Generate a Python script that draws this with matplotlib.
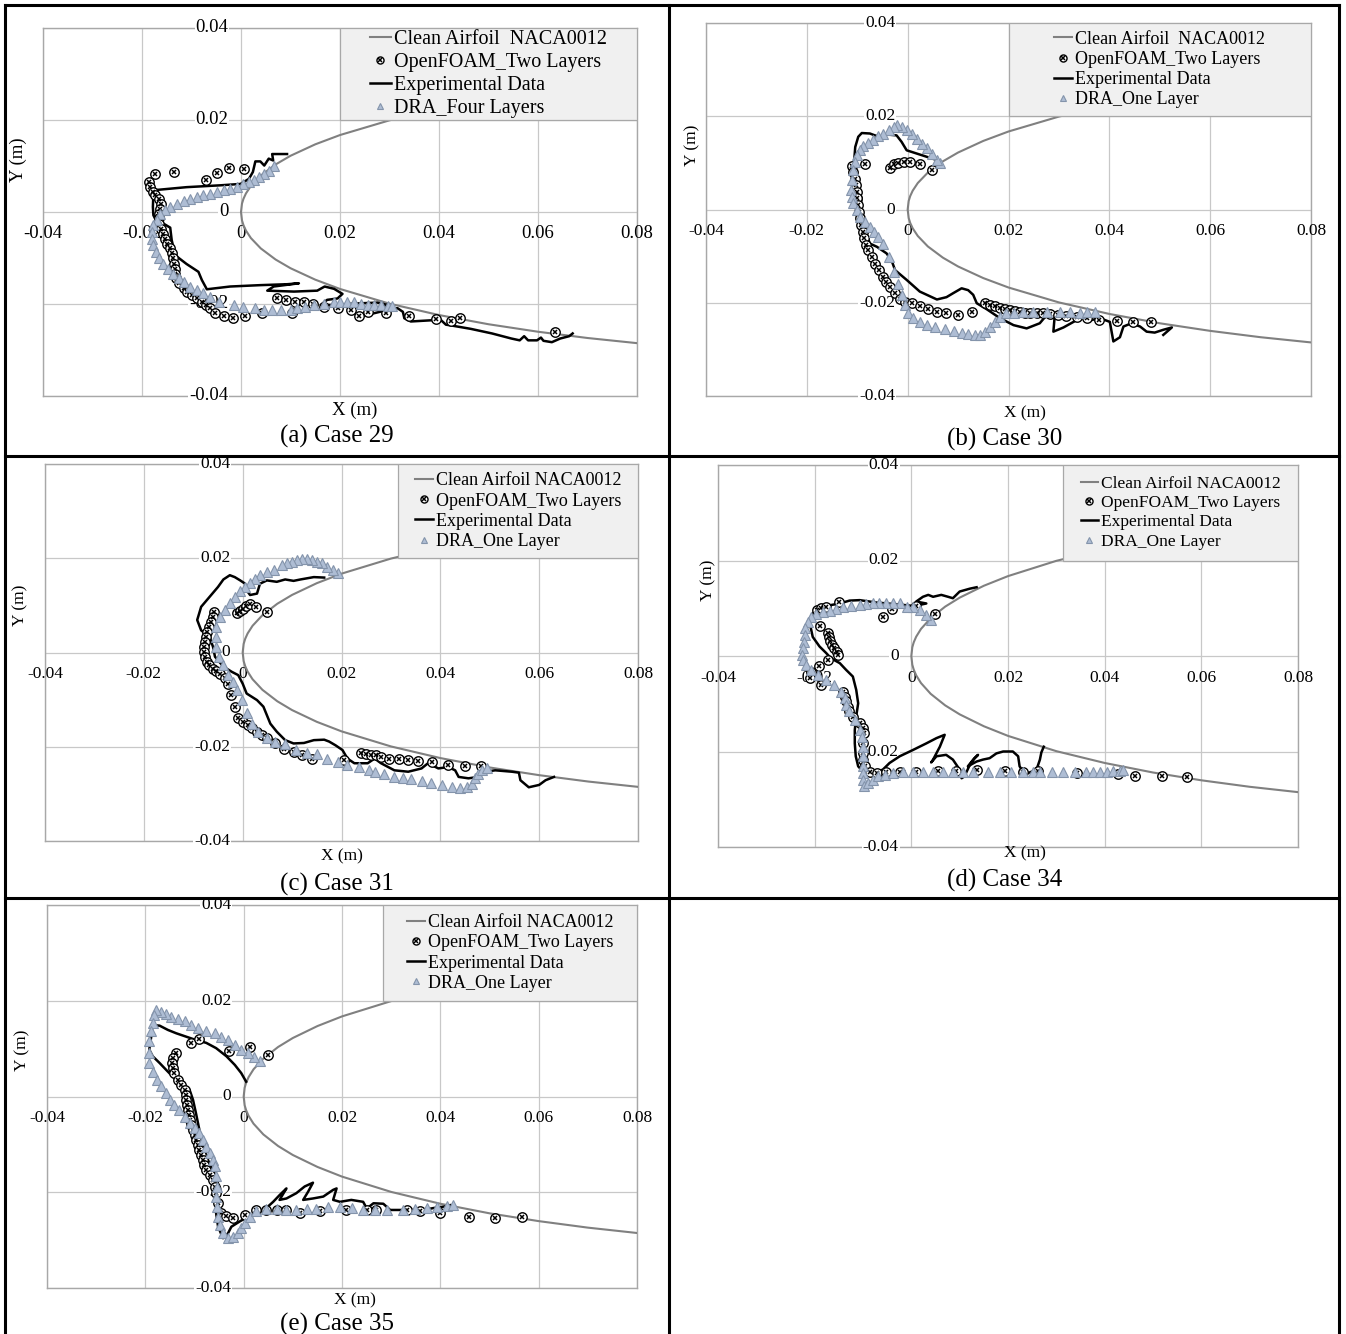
import numpy as np
import matplotlib
matplotlib.use("Agg")
import matplotlib.pyplot as plt
from matplotlib.lines import Line2D
from matplotlib.patches import Rectangle
from matplotlib.legend_handler import HandlerTuple

plt.rcParams["font.family"] = ["Liberation Serif", "DejaVu Serif"]

W, H = 1346, 1334

# ------------------------------------------------------------------
# Datos (en mm, se convierten a m al graficar)
# ------------------------------------------------------------------

# perfil limpio NACA0012 (mitad superior, simétrico)
AIRFOIL_X = [0.0, 0.2, 0.5, 1.0, 2.0, 4.0, 7.0, 10.0, 15.0, 20.0, 30.0,
             40.0, 50.0, 60.0, 70.0, 80.0, 85.0]
AIRFOIL_Y = [0.0, 1.83, 2.87, 4.04, 5.67, 7.92, 10.34, 12.22, 14.71, 16.73,
             19.93, 22.40, 24.40, 26.03, 27.39, 28.51, 28.98]

X_TICKS = [-0.04, -0.02, 0.0, 0.02, 0.04, 0.06, 0.08]
Y_TICKS = [-0.04, -0.02, 0.0, 0.02, 0.04]
X_TICK_LABELS = ["-0.04", "-0.02", "0", "0.02", "0.04", "0.06", "0.08"]
Y_TICK_LABELS = ["-0.04", "-0.02", "0", "0.02", "0.04"]

# Caso 29
EXP29_X = [9.3, 6.3, 6.5, 5.6, 4.7, 3.9, 2.9, 2.4, 1.6, -0.1, -4.2, -11.0, -17.0, -17.7,
           -17.8, -17.7, -17.0, -15.7, -14.3, -14.0, -13.3, -11.0, -8.6, -7.9, -6.9, -2.2,
           3.9, 9.3, 11.7, 6.6, 5.3, 10.7, 15.4, 16.9, 18.8, 20.5, 19.5, 17.4, 16.1, 18.8,
           22.8, 27.6, 29.6, 26.9, 25.2, 24.2, 26.9, 29.6, 31.6, 32.7, 33.0, 34.3, 39.1,
           40.4, 41.4, 42.1, 46.4, 50.7, 54.6, 56.3, 57.2, 58.0, 59.8, 60.6, 61.1, 62.8,
           64.5, 66.3, 67.0]
EXP29_Y = [12.6, 12.6, 11.2, 11.6, 10.1, 11.0, 11.0, 8.7, 7.2, 6.1, 5.8, 5.4, 4.8, 4.0,
           1.1, -0.7, -2.2, -2.5, -3.4, -6.1, -9.4, -11.3, -13.0, -14.8, -16.8, -16.2,
           -15.9, -15.7, -15.5, -16.2, -17.1, -17.3, -17.1, -16.2, -16.7, -17.8, -18.8,
           -19.1, -20.2, -20.2, -19.9, -19.7, -20.2, -20.9, -21.7, -22.7, -22.0, -21.3,
           -20.9, -21.7, -23.1, -23.8, -23.5, -23.5, -24.5, -24.6, -25.4, -26.4, -27.5,
           -27.9, -27.0, -27.9, -27.9, -27.3, -28.0, -28.3, -27.5, -27.0, -26.4]
OF29_X = [-17.4, -13.5, -7.0, -4.9, -2.5, 0.7, -18.5, -18.3, -17.8, -17.4, -16.5, -16.2,
          -16.4, -16.5, -16.6, -16.5, -16.2, -15.8, -15.3, -14.9, -14.3, -14.0, -13.7,
          -13.5, -13.3, -13.3, -13.1, -12.6, -11.6, -11.0, -9.9, -8.9, -7.9, -7.0, -6.2,
          -5.2, -3.5, -1.6, 0.9, 4.3, 10.3, 7.3, 9.0, 11.0, 12.7, 14.6, 16.8, 19.5, 22.2,
          23.9, 25.6, 29.3, 34.0, 39.4, 42.5, 44.3, 63.5]
OF29_Y = [8.3, 8.7, 7.0, 8.5, 9.6, 9.4, 6.5, 5.4, 4.3, 3.6, 2.9, 1.8, 0.7, -0.4, -1.4,
          -2.5, -3.6, -4.7, -5.8, -6.9, -7.9, -9.0, -10.1, -11.2, -12.3, -13.4, -14.4,
          -15.5, -16.6, -17.3, -18.1, -18.8, -19.5, -20.2, -20.9, -21.9, -22.6, -23.1,
          -22.6, -22.0, -21.9, -18.8, -19.1, -19.6, -19.6, -19.9, -20.6, -20.9, -21.3,
          -22.7, -21.7, -22.0, -22.7, -23.2, -23.8, -23.0, -26.0]
DRA29_X = [6.6, 5.6, 4.6, 3.6, 2.6, 1.6, 0.5, -0.8, -2.2, -3.5, -4.9, -6.2, -7.6, -8.9,
           -10.3, -11.6, -13.0, -14.3, -15.3, -16.4, -17.0, -17.7, -18.0, -18.0, -17.7,
           -17.2, -16.5, -15.7, -14.7, -13.7, -12.6, -11.6, -10.3, -8.9, -7.6, -6.2, -4.5,
           -1.5, 0.5, 2.9, 4.6, 6.3, 8.0, 10.0, 11.4, 13.0, 14.7, 16.8, 18.8, 20.1, 21.5,
           22.8, 24.2, 25.6, 26.9, 28.3, 29.6, 30.6]
DRA29_Y = [9.9, 9.0, 8.3, 7.6, 6.9, 6.5, 6.1, 5.4, 5.1, 4.7, 4.3, 4.0, 3.6, 3.2, 2.9, 2.4,
           1.8, 1.1, 0.4, -0.5, -1.7, -2.9, -4.3, -5.8, -7.2, -8.7, -10.1, -11.2, -12.3,
           -13.4, -14.4, -15.2, -16.2, -17.0, -17.7, -18.4, -19.5, -20.2, -20.6, -20.9,
           -21.3, -21.4, -21.3, -21.4, -20.9, -20.6, -20.2, -19.9, -19.5, -19.6, -19.6,
           -19.5, -19.9, -20.2, -20.2, -20.2, -20.4, -20.4]

# Caso 30
EXP30_X = [5.8, 3.8, 1.8, -0.2, -1.2, -2.2, -4.2, -5.5, -6.5, -7.5, -9.1, -9.8, -10.4,
           -10.6, -10.4, -9.8, -9.1, -9.5, -9.1, -8.5, -7.5, -6.1, -4.2, -3.2, -2.5, -0.2,
           2.4, 5.8, 7.7, 9.1, 10.7, 12.0, 13.0, 13.7, 15.7, 18.3, 21.0, 23.6, 26.2, 27.6,
           29.2, 28.9, 30.9, 32.9, 34.8, 36.5, 38.1, 40.1, 40.8, 42.1, 42.8, 44.4, 46.1,
           47.4, 49.0, 50.7, 52.4, 50.7]
EXP30_Y = [10.6, 11.3, 12.0, 12.7, 14.5, 15.9, 16.1, 15.6, 15.9, 16.3, 16.4, 15.6, 13.4,
           10.6, 7.0, 4.1, 2.4, -0.1, -2.3, -4.4, -7.3, -8.0, -9.4, -10.9, -13.0, -15.1,
           -17.6, -19.3, -18.8, -17.9, -16.9, -17.3, -18.3, -20.1, -21.4, -23.3, -24.8,
           -25.5, -24.4, -22.6, -22.4, -26.2, -25.3, -24.1, -23.0, -23.7, -23.3, -24.1,
           -28.3, -27.4, -25.1, -24.4, -25.1, -26.2, -26.4, -25.8, -25.3, -26.9]
OF30_X = [-11.1, -8.5, -3.6, -2.8, -1.9, -0.7, 0.5, 2.4, 4.8, -10.8, -10.4, -10.2, -10.1,
          -10.0, -9.8, -9.6, -9.5, -9.3, -8.9, -8.7, -8.3, -7.8, -7.1, -6.5, -5.6, -4.8,
          -4.2, -3.5, -2.5, -1.5, -0.5, 0.8, 2.4, 4.1, 5.8, 7.7, 10.0, 12.7, 15.3, 16.3,
          17.3, 18.3, 19.3, 20.3, 21.3, 22.3, 23.3, 24.3, 25.6, 26.9, 28.2, 29.9, 31.5,
          33.5, 35.5, 38.0, 41.6, 44.7, 48.2]
OF30_Y = [9.3, 9.7, 9.0, 9.7, 10.0, 10.2, 10.2, 9.7, 8.4, 8.1, 6.6, 5.2, 3.8, 2.4, 0.9,
          -0.5, -1.9, -3.4, -4.8, -6.2, -7.6, -8.7, -10.1, -11.6, -13.0, -14.4, -15.5,
          -16.6, -18.0, -19.1, -19.8, -20.1, -20.8, -21.4, -21.9, -22.3, -22.6, -21.9,
          -20.1, -20.5, -20.8, -21.1, -21.3, -21.6, -21.7, -21.9, -22.1, -22.1, -22.3,
          -22.3, -22.5, -22.6, -22.8, -23.1, -23.3, -23.7, -23.9, -24.1, -24.1]
DRA30_X = [6.5, 5.8, 4.8, 3.8, 2.8, 1.8, 0.8, -0.2, -1.2, -2.2, -2.8, -3.8, -4.8, -5.8,
           -6.8, -7.8, -8.8, -9.5, -10.0, -10.4, -10.8, -11.1, -11.3, -11.1, -10.8, -10.1,
           -9.5, -8.5, -7.5, -6.7, -5.8, -4.8, -3.8, -2.8, -1.9, -1.2, -0.5, 0.1, 1.1, 2.4,
           3.8, 5.4, 7.4, 9.1, 10.7, 12.0, 13.4, 14.3, 15.3, 16.3, 17.3, 18.3, 19.6, 21.0,
           22.9, 24.9, 27.6, 30.2, 32.2, 34.2, 35.5, 37.1]
DRA30_Y = [10.0, 10.7, 12.0, 13.1, 14.1, 15.2, 16.1, 17.0, 17.7, 18.1, 17.7, 17.0, 16.3,
           15.7, 15.0, 14.3, 13.6, 12.7, 11.6, 10.2, 8.4, 6.3, 4.1, 2.7, 1.3, -0.1, -1.6,
           -2.6, -3.7, -4.8, -5.9, -7.3, -10.1, -13.4, -15.9, -18.3, -20.5, -22.3, -23.3,
           -24.1, -24.8, -25.1, -25.6, -26.0, -26.4, -26.7, -26.9, -26.9, -26.2, -25.1,
           -24.1, -23.0, -22.3, -22.1, -21.9, -21.9, -21.9, -21.9, -21.9, -22.1, -21.9,
           -21.9]

# Caso 31
EXP31_X = [16.5, 14.4, 11.7, 10.3, 8.6, 6.9, 4.9, 3.5, 2.9, 1.5, 0.8, 0.5, -0.5, -1.6,
           -2.6, -3.9, -5.0, -6.7, -8.4, -9.2, -8.4, -6.7, -6.0, -5.6, -3.9, -2.2, -0.9,
           0.0, 0.8, 2.9, 4.2, 5.6, 6.9, 8.6, 10.3, 12.4, 14.4, 16.5, 17.5, 18.8, 20.2,
           21.2, 22.6, 23.9, 25.3, 26.7, 28.0, 30.7, 33.5, 36.2, 37.5, 39.6, 41.6, 43.0,
           43.7, 45.7, 47.7, 49.1, 51.1, 54.5, 55.9, 56.2, 57.9, 60.0, 61.3, 63.0]
EXP31_Y = [15.9, 16.0, 15.5, 15.2, 15.5, 15.0, 15.3, 14.6, 12.5, 12.2, 13.2, 14.6, 15.3,
           16.0, 16.4, 15.5, 13.9, 11.8, 9.7, 6.9, 4.7, 3.3, 1.2, -0.9, -3.0, -4.1, -4.8,
           -6.6, -8.7, -10.1, -11.5, -15.1, -16.8, -18.6, -19.3, -19.2, -18.6, -18.5,
           -18.9, -19.7, -20.7, -22.5, -23.5, -23.5, -23.5, -22.5, -23.5, -25.0, -25.3,
           -24.6, -23.5, -24.6, -24.3, -25.0, -26.4, -26.7, -26.4, -25.3, -25.0, -25.3,
           -25.5, -27.1, -28.6, -28.1, -27.1, -26.4]
OF31_X = [-1.1, -0.5, 0.0, 0.7, 1.5, 2.7, 4.9, -5.8, -6.1, -6.5, -6.8, -7.2, -7.5, -7.7,
          -7.8, -7.8, -7.7, -7.3, -6.8, -6.1, -5.4, -4.6, -3.6, -2.9, -2.4, -1.6, -0.9,
          0.1, 1.0, 1.8, 2.9, 3.9, 4.9, 6.6, 8.3, 10.3, 12.0, 14.1, 20.5, 23.9, 25.0, 26.0,
          27.0, 28.0, 29.7, 31.6, 33.5, 35.5, 38.4, 41.6, 44.9, 48.3]
OF31_Y = [8.3, 8.8, 9.3, 9.8, 10.3, 9.7, 8.6, 8.6, 7.6, 6.5, 5.4, 4.4, 3.3, 2.3, 1.2, 0.1,
          -0.9, -2.0, -2.7, -3.4, -3.9, -4.5, -5.5, -6.6, -9.0, -11.5, -14.0, -14.7,
          -15.4, -16.1, -16.8, -17.5, -18.2, -19.3, -20.4, -21.1, -21.8, -22.5, -22.8,
          -21.4, -21.6, -21.7, -21.8, -22.1, -22.5, -22.7, -22.8, -23.0, -23.3, -23.9,
          -24.1, -24.1]
DRA31_X = [19.2, 18.2, 17.1, 16.1, 15.1, 14.1, 13.1, 12.0, 11.0, 10.0, 9.0, 8.0, 6.3, 4.9,
           3.5, 2.5, 1.5, 0.5, -0.5, -1.6, -2.6, -3.6, -4.6, -5.3, -5.4, -5.3, -4.8, -3.9,
           -2.9, -1.9, -1.2, -0.2, 0.8, 1.8, 3.2, 4.9, 6.6, 8.6, 10.7, 13.1, 15.1, 17.1,
           19.2, 21.2, 23.6, 25.6, 26.7, 28.7, 30.7, 32.4, 34.1, 36.2, 38.2, 40.3, 42.3,
           44.0, 45.4, 46.4, 47.1, 47.7, 48.4, 49.4]
DRA31_Y = [16.8, 17.5, 18.2, 18.9, 19.2, 19.6, 19.8, 19.8, 19.6, 19.2, 19.0, 18.5, 17.5,
           17.1, 16.4, 15.7, 14.8, 13.9, 13.1, 11.8, 10.4, 9.0, 7.6, 5.4, 3.3, 1.2, -0.9,
           -2.7, -4.8, -6.2, -8.0, -10.1, -12.9, -15.1, -16.8, -18.2, -18.9, -19.5, -20.6,
           -21.3, -21.6, -22.5, -23.2, -23.9, -24.2, -25.0, -25.3, -25.8, -26.4, -26.7,
           -26.9, -27.2, -27.6, -28.1, -28.6, -28.8, -28.6, -27.8, -26.7, -25.8, -25.0,
           -24.6]

# Caso 34
EXP34_X = [13.5, 12.1, 10.0, 8.6, 7.6, 6.2, 4.5, 3.5, 2.4, 1.0, 3.1, 1.7, 0.3, -1.7, -3.8,
           -7.2, -10.7, -12.8, -14.8, -17.6, -19.3, -20.4, -21.0, -20.4, -19.0, -17.6,
           -16.6, -14.8, -13.5, -12.1, -11.4, -11.0, -11.4, -11.7, -11.7, -11.5, -11.0,
           -10.0, -7.9, -5.9, -4.5, -2.4, 0.3, 3.1, 5.2, 6.9, 5.9, 4.5, 4.1, 5.2, 7.2, 8.6,
           10.0, 10.4, 11.0, 12.1, 13.1, 13.8, 12.8, 11.7, 13.5, 14.8, 16.2, 17.6, 19.0,
           21.0, 22.1, 22.4, 23.1, 24.2, 25.9, 26.6, 26.9, 27.4]
EXP34_Y = [14.4, 14.1, 13.5, 12.1, 12.4, 12.8, 12.4, 12.8, 12.4, 11.4, 11.0, 10.7, 10.5,
           10.7, 10.9, 11.2, 11.7, 11.6, 11.0, 10.5, 10.0, 8.9, 6.8, 4.0, 2.0, 0.6, -0.5,
           -1.5, -2.9, -4.3, -7.1, -9.9, -12.6, -15.5, -18.3, -21.0, -23.1, -24.2, -24.5,
           -23.8, -22.4, -21.0, -19.7, -18.3, -17.2, -16.5, -19.0, -21.7, -22.3, -21.0,
           -20.7, -21.7, -23.8, -25.6, -25.2, -22.8, -21.4, -20.7, -21.7, -23.1, -22.1,
           -21.7, -21.4, -20.4, -20.0, -20.0, -21.0, -23.1, -24.2, -24.5, -23.8, -21.7,
           -20.2, -19.0]
OF34_X = [-19.5, -18.6, -17.6, -15.0, -5.9, -4.1, 0.9, 4.8, -18.8, -17.3, -17.0, -16.8,
          -16.4, -15.9, -15.4, -15.2, -17.3, -19.1, -20.7, -21.0, -18.6, -14.1, -13.8,
          -13.5, -13.1, -12.8, -12.1, -10.7, -10.0, -9.7, -9.9, -10.1, -10.0, -9.5, -8.6,
          -7.2, -5.2, -2.4, 1.0, 5.5, 9.3, 13.5, 19.3, 23.1, 26.2, 34.2, 42.8, 46.2, 51.8,
          57.1]
OF34_Y = [9.6, 10.0, 10.3, 11.4, 8.2, 9.8, 10.5, 8.7, 6.3, 4.9, 4.0, 3.2, 2.3, 1.6, 0.9,
          0.2, -0.8, -2.1, -3.3, -4.7, -6.1, -7.5, -8.5, -9.5, -10.6, -11.6, -12.7, -14.1,
          -15.1, -16.2, -18.3, -20.4, -21.7, -23.1, -24.2, -24.4, -24.3, -24.3, -24.3,
          -24.1, -24.0, -23.8, -24.0, -24.2, -24.1, -24.5, -24.7, -25.1, -25.2, -25.4]
DRA34_X = [4.1, 3.1, 1.7, 0.3, -1.0, -2.4, -3.8, -5.2, -6.6, -7.9, -9.3, -10.7, -12.4,
           -14.1, -15.5, -16.9, -18.3, -19.7, -20.7, -21.4, -21.9, -22.1, -22.2, -22.4,
           -22.6, -22.4, -21.7, -20.7, -19.3, -17.6, -15.9, -14.5, -13.8, -13.5, -12.8,
           -11.7, -10.7, -10.3, -10.0, -9.9, -9.9, -9.9, -9.9, -9.7, -9.0, -7.9, -6.9,
           -5.5, -3.8, -1.7, 0.3, 2.4, 4.5, 6.6, 8.6, 10.7, 12.8, 15.9, 18.3, 20.7, 23.1,
           25.2, 26.6, 29.0, 31.4, 33.8, 36.2, 37.6, 39.0, 40.4, 41.7, 43.1, 43.8]
DRA34_Y = [7.5, 8.6, 9.6, 10.2, 10.3, 11.0, 11.2, 11.2, 11.2, 11.0, 10.9, 10.7, 10.5,
           10.2, 9.8, 9.5, 9.3, 8.9, 8.2, 7.2, 5.8, 4.4, 3.0, 1.6, 0.2, -0.8, -1.9, -2.9,
           -4.0, -5.0, -6.1, -7.5, -8.9, -10.2, -11.6, -13.4, -15.5, -16.9, -19.0, -21.0,
           -23.1, -24.5, -25.9, -27.3, -26.6, -25.9, -25.2, -24.9, -24.4, -24.3, -24.3,
           -24.3, -24.3, -24.3, -24.3, -24.3, -24.3, -24.3, -24.3, -24.3, -24.3, -24.3,
           -24.3, -24.3, -24.3, -24.3, -24.3, -24.3, -24.3, -24.2, -24.1, -24.0, -23.8]

# Caso 35
EXP35_X = [0.5, -0.5, -1.8, -3.5, -5.6, -7.6, -9.7, -11.7, -13.7, -15.4, -17.1, -18.2,
           -18.6, -18.8, -19.2, -18.5, -17.1, -15.8, -14.1, -12.4, -11.0, -10.3, -9.7,
           -9.0, -8.3, -7.0, -5.6, -4.9, -5.2, -5.6, -5.2, -4.2, -3.2, -2.5, -0.8, 0.9,
           2.6, 4.6, 6.0, 7.3, 8.7, 7.3, 8.7, 10.7, 12.4, 14.1, 13.1, 12.1, 14.1, 16.2,
           18.2, 18.9, 18.2, 19.6, 21.9, 24.3, 25.0, 24.3, 26.4, 28.4, 29.8, 31.8, 34.5,
           36.6, 38.6, 40.7, 42.0]
EXP35_Y = [3.1, 4.9, 6.6, 8.4, 10.1, 11.2, 11.8, 12.5, 13.2, 13.9, 14.8, 14.9, 14.3, 12.5,
           9.8, 8.4, 7.0, 5.6, 3.8, 2.8, 1.4, -0.7, -3.5, -7.0, -10.5, -13.9, -16.7, -19.5,
           -21.6, -24.4, -27.2, -29.6, -28.6, -27.2, -26.1, -25.1, -24.4, -23.3, -22.0,
           -20.6, -19.2, -21.6, -21.3, -20.2, -18.8, -18.0, -19.9, -21.6, -21.3, -20.9,
           -19.5, -19.2, -21.6, -22.0, -21.6, -22.0, -23.3, -24.0, -22.3, -22.4, -23.7,
           -23.7, -23.7, -23.7, -23.3, -23.0, -22.7]
OF35_X = [-10.7, -9.0, -3.0, 1.2, 5.0, -13.7, -14.3, -14.6, -14.4, -14.1, -13.4, -12.7,
          -12.0, -11.8, -11.7, -11.6, -11.4, -11.2, -10.9, -10.7, -10.3, -10.0, -9.7, -9.3,
          -9.0, -8.6, -8.3, -8.0, -7.6, -6.9, -6.3, -5.9, -5.6, -5.2, -4.6, -3.5, -2.2,
          0.2, 2.6, 4.6, 6.7, 8.7, 11.4, 15.6, 20.8, 25.0, 26.9, 33.2, 35.9, 40.0, 45.8,
          51.2, 56.6]
OF35_Y = [11.2, 12.0, 9.6, 10.3, 8.7, 9.1, 8.0, 7.1, 5.9, 4.9, 3.5, 2.4, 1.4, 0.3, -0.7,
          -1.7, -2.8, -3.8, -4.9, -5.9, -7.0, -8.0, -9.1, -10.1, -11.2, -12.2, -13.2,
          -14.3, -15.3, -16.4, -17.4, -18.8, -20.2, -22.3, -24.4, -25.0, -25.4, -24.7,
          -23.8, -23.7, -23.7, -23.8, -24.3, -24.0, -23.8, -23.8, -23.7, -23.7, -24.0,
          -24.4, -25.2, -25.4, -25.2]
DRA35_X = [3.3, 2.2, 0.9, -0.5, -1.8, -3.2, -4.6, -5.9, -7.6, -9.3, -10.7, -12.0, -13.4,
           -14.8, -15.8, -16.8, -17.8, -18.2, -18.5, -18.8, -19.2, -19.3, -19.2, -18.5,
           -17.7, -16.8, -15.8, -14.9, -14.1, -13.1, -12.0, -11.0, -10.0, -9.0, -8.3,
           -7.6, -6.9, -6.3, -5.9, -5.6, -5.4, -5.6, -5.4, -5.2, -4.9, -4.2, -3.2, -2.2,
           -1.2, -0.5, 0.2, 1.2, 2.6, 4.6, 6.7, 8.7, 10.7, 12.8, 14.8, 17.2, 19.6, 22.0,
           24.3, 26.7, 29.1, 32.5, 34.9, 37.3, 39.3, 41.4, 42.6]
DRA35_Y = [7.5, 8.2, 9.1, 9.8, 10.8, 11.8, 12.5, 13.2, 13.6, 14.3, 15.0, 15.7, 16.2, 16.7,
           17.3, 17.6, 18.1, 17.1, 15.3, 13.6, 11.5, 9.1, 7.0, 5.2, 3.5, 2.1, 0.7, -0.7,
           -1.7, -2.8, -4.2, -5.6, -6.6, -7.7, -9.1, -10.5, -11.8, -13.2, -14.6, -16.7,
           -18.8, -20.9, -23.0, -25.1, -26.8, -28.6, -29.6, -29.4, -28.6, -27.5, -26.5,
           -25.1, -24.0, -23.6, -23.6, -23.7, -23.7, -23.6, -23.6, -23.0, -23.0, -23.3,
           -23.7, -23.7, -23.7, -23.7, -23.6, -23.3, -23.1, -22.8, -22.6]

CAPTIONS = ["(a) Case 29", "(b) Case 30", "(c) Case 31", "(d) Case 34", "(e) Case 35"]
DRA_LABELS = ["DRA_Four Layers", "DRA_One Layer", "DRA_One Layer", "DRA_One Layer",
              "DRA_One Layer"]
AIRFOIL_LABELS = ["Clean Airfoil  NACA0012", "Clean Airfoil  NACA0012",
                  "Clean Airfoil NACA0012", "Clean Airfoil NACA0012",
                  "Clean Airfoil NACA0012"]

CASES = [
    (EXP29_X, EXP29_Y, OF29_X, OF29_Y, DRA29_X, DRA29_Y),
    (EXP30_X, EXP30_Y, OF30_X, OF30_Y, DRA30_X, DRA30_Y),
    (EXP31_X, EXP31_Y, OF31_X, OF31_Y, DRA31_X, DRA31_Y),
    (EXP34_X, EXP34_Y, OF34_X, OF34_Y, DRA34_X, DRA34_Y),
    (EXP35_X, EXP35_Y, OF35_X, OF35_Y, DRA35_X, DRA35_Y),
]

# ------------------------------------------------------------------
# Disposición (px de la imagen)
# ------------------------------------------------------------------
# caja de cada gráfica: (izq, der, arriba, abajo)
AX_BOX = [(43, 637, 28, 396), (706, 1311, 23, 396), (45, 638, 464, 841),
          (718, 1298, 465, 847), (47, 637, 905, 1288)]
LEGEND_X0 = [0.020, 0.020, 0.0315, 0.0314, 0.0283]
LEGEND_FS = [14.5, 13, 13, 12.5, 13]
TICK_FS = [13.5, 12.5, 12.5, 12.5, 12.5]
XLABEL_POS = [(355, 410), (1025, 413), (342, 856), (1025, 853), (355, 1300)]
YLABEL_POS = [(18, 160), (692, 145), (20, 605), (708, 580), (22, 1050)]
CAPTION_POS = [(337, 436), (1005, 439), (337, 884), (1005, 880), (337, 1324)]

GRIS_GRID = "#c8c8c8"
GRIS_PERFIL = "#808080"


def fx(px):
    return px / W


def fy(py):
    return 1 - py / H


def dibujar_panel(ax, datos, i):
    ex, ey, ofx, ofy, dx, dy = [np.asarray(v) / 1000.0 for v in datos]

    ax.set_xlim(-0.04, 0.08)
    ax.set_ylim(-0.04, 0.04)
    ax.set_xticks(X_TICKS)
    ax.set_yticks(Y_TICKS)
    ax.tick_params(length=0, labelbottom=False, labelleft=False)
    ax.set_axisbelow(True)
    ax.grid(True, color=GRIS_GRID, linewidth=0.9)
    for sp in ax.spines.values():
        sp.set_color("#a8a8a8")
        sp.set_linewidth(1.0)
        sp.set_zorder(1.0)

    # etiquetas de los ejes cruzando en el origen
    fs = TICK_FS[i]
    for v, lab in zip(Y_TICKS, Y_TICK_LABELS):
        ax.annotate(lab, xy=(0, v), xytext=(-9, 0), textcoords="offset points",
                    ha="right", va="center", fontsize=fs, zorder=1.5,
                    annotation_clip=False,
                    bbox=dict(boxstyle="square,pad=0.05", fc="white", ec="none"))
    for v, lab in zip(X_TICKS, X_TICK_LABELS):
        ax.annotate(lab, xy=(v, 0), xytext=(0, -15.5), textcoords="offset points",
                    ha="center", va="center", fontsize=fs, zorder=1.5,
                    annotation_clip=False)

    # perfil limpio
    axf = np.asarray(AIRFOIL_X) / 1000.0
    ayf = np.asarray(AIRFOIL_Y) / 1000.0
    px_ = np.concatenate([axf[::-1], axf[1:]])
    py_ = np.concatenate([ayf[::-1], -ayf[1:]])
    h_perfil, = ax.plot(px_, py_, color=GRIS_PERFIL, linewidth=1.5, zorder=2)

    h_exp, = ax.plot(ex, ey, color="black", linewidth=1.8, zorder=3)
    h_of1, = ax.plot(ofx, ofy, "o", ms=6.8, mfc="white", mec="black", mew=1.0,
                     linestyle="none", zorder=3.5)
    h_of2, = ax.plot(ofx, ofy, "x", ms=3.4, mec="black", mew=1.1,
                     linestyle="none", zorder=3.6)
    h_dra, = ax.plot(dx, dy, "^", ms=6.5, mfc="#aebdd4", mec="#8494ab", mew=0.8,
                     linestyle="none", zorder=4)

    # leyenda con fondo gris
    x0 = LEGEND_X0[i]
    ax.add_patch(Rectangle((x0, 0.02), 0.08 - x0, 0.02, facecolor="#f0f0f0",
                           edgecolor="#a8a8a8", linewidth=0.9, zorder=5))
    leg = ax.legend([h_perfil, (h_of1, h_of2), h_exp, h_dra],
                    [AIRFOIL_LABELS[i], "OpenFOAM_Two Layers", "Experimental Data",
                     DRA_LABELS[i]],
                    handler_map={tuple: HandlerTuple(ndivide=1)},
                    loc="center", bbox_to_anchor=(x0, 0.02, 0.08 - x0, 0.02),
                    bbox_transform=ax.transData, frameon=False, fontsize=LEGEND_FS[i],
                    handlelength=1.0, handletextpad=0.15, labelspacing=0.18,
                    markerscale=0.75, borderpad=0.0)
    leg.set_zorder(6)


fig = plt.figure(figsize=(W / 100, H / 100), dpi=100)

for i, datos in enumerate(CASES):
    l, r, t, b = AX_BOX[i]
    ax = fig.add_axes([fx(l), fy(b), (r - l) / W, (b - t) / H])
    dibujar_panel(ax, datos, i)
    fig.text(fx(XLABEL_POS[i][0]), fy(XLABEL_POS[i][1]), "X (m)", ha="center",
             va="center", fontsize=TICK_FS[i])
    fig.text(fx(YLABEL_POS[i][0]), fy(YLABEL_POS[i][1]), "Y (m)", ha="center",
             va="center", fontsize=TICK_FS[i], rotation=90)
    fig.text(fx(CAPTION_POS[i][0]), fy(CAPTION_POS[i][1]), CAPTIONS[i], ha="center",
             va="center", fontsize=18)

# bordes de la tabla
bordes = [((5, 5), (5, 1334)), ((1339, 5), (1339, 1334)), ((5, 5), (1339, 5)),
          ((669, 5), (669, 1334)), ((5, 456), (1339, 456)), ((5, 898), (1339, 898))]
for (x1, y1), (x2, y2) in bordes:
    fig.add_artist(Line2D([fx(x1), fx(x2)], [fy(y1), fy(y2)], transform=fig.transFigure,
                          color="black", linewidth=2.2))

fig.savefig("out.png", dpi=100)
